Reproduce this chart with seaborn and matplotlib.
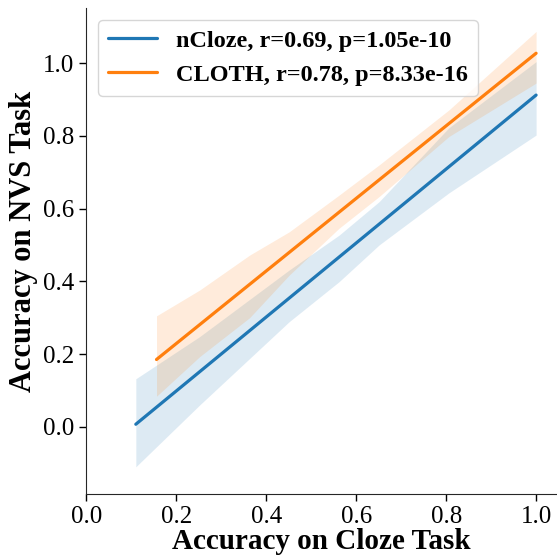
import numpy as np
import pandas as pd
import matplotlib
matplotlib.use('Agg')
import matplotlib.pyplot as plt
import seaborn as sns

# regression fit lines
ncloze_x = [0.11, 1.0]
ncloze_y = [0.007, 0.912]
cloth_x = [0.156, 1.0]
cloth_y = [0.185, 1.027]

# confidence bands
ncloze_band_x = [0.11, 0.252, 0.451, 0.562, 0.651, 0.806, 1.0]
ncloze_band_lo = [-0.110, 0.060, 0.289, 0.399, 0.500, 0.643, 0.802]
ncloze_band_hi = [0.132, 0.248, 0.431, 0.527, 0.619, 0.822, 1.004]

cloth_band_x = [0.156, 0.252, 0.363, 0.451, 0.562, 0.651, 0.806, 1.0]
cloth_band_lo = [0.084, 0.193, 0.300, 0.417, 0.546, 0.633, 0.798, 0.945]
cloth_band_hi = [0.305, 0.376, 0.472, 0.536, 0.637, 0.720, 0.871, 1.087]

labels = ['nCloze, r=0.69, p=1.05e-10', 'CLOTH, r=0.78, p=8.33e-16']
colors = ['#1f77b4', '#ff7f0e']


def main():
    sns.set_style('ticks')
    plt.rcParams['font.family'] = ['Liberation Serif', 'DejaVu Serif']
    for key in ['text.color', 'axes.labelcolor', 'xtick.color', 'ytick.color']:
        plt.rcParams[key] = 'black'
    fig, ax = plt.subplots(figsize=(5.57, 5.56), dpi=100)
    fig.subplots_adjust(left=0.155, right=0.998, bottom=0.112, top=0.986)

    df = pd.concat([
        pd.DataFrame({'x': ncloze_x, 'y': ncloze_y, 'set': labels[0]}),
        pd.DataFrame({'x': cloth_x, 'y': cloth_y, 'set': labels[1]}),
    ])
    sns.lineplot(data=df, x='x', y='y', hue='set', palette=colors, linewidth=2.3, ax=ax)

    ax.fill_between(ncloze_band_x, ncloze_band_lo, ncloze_band_hi, color=colors[0], alpha=0.15, linewidth=0)
    ax.fill_between(cloth_band_x, cloth_band_lo, cloth_band_hi, color=colors[1], alpha=0.15, linewidth=0)

    ax.set_xlim(0, 1.044)
    ax.set_ylim(-0.184, 1.152)
    ax.set_xticks(np.arange(0, 1.01, 0.2))
    ax.set_yticks(np.arange(0, 1.01, 0.2))
    ax.tick_params(labelsize=18, length=5, width=1)
    ax.set_xlabel('Accuracy on Cloze Task', fontsize=21, fontweight='bold', labelpad=0.5)
    ax.set_ylabel('Accuracy on NVS Task', fontsize=22, fontweight='bold', y=0.52)
    sns.despine(ax=ax)

    ax.legend(loc='upper left', prop={'size': 17.5, 'weight': 'bold'}, handlelength=2.0)
    plt.savefig('out.png', dpi=100)
    plt.close()


main()
